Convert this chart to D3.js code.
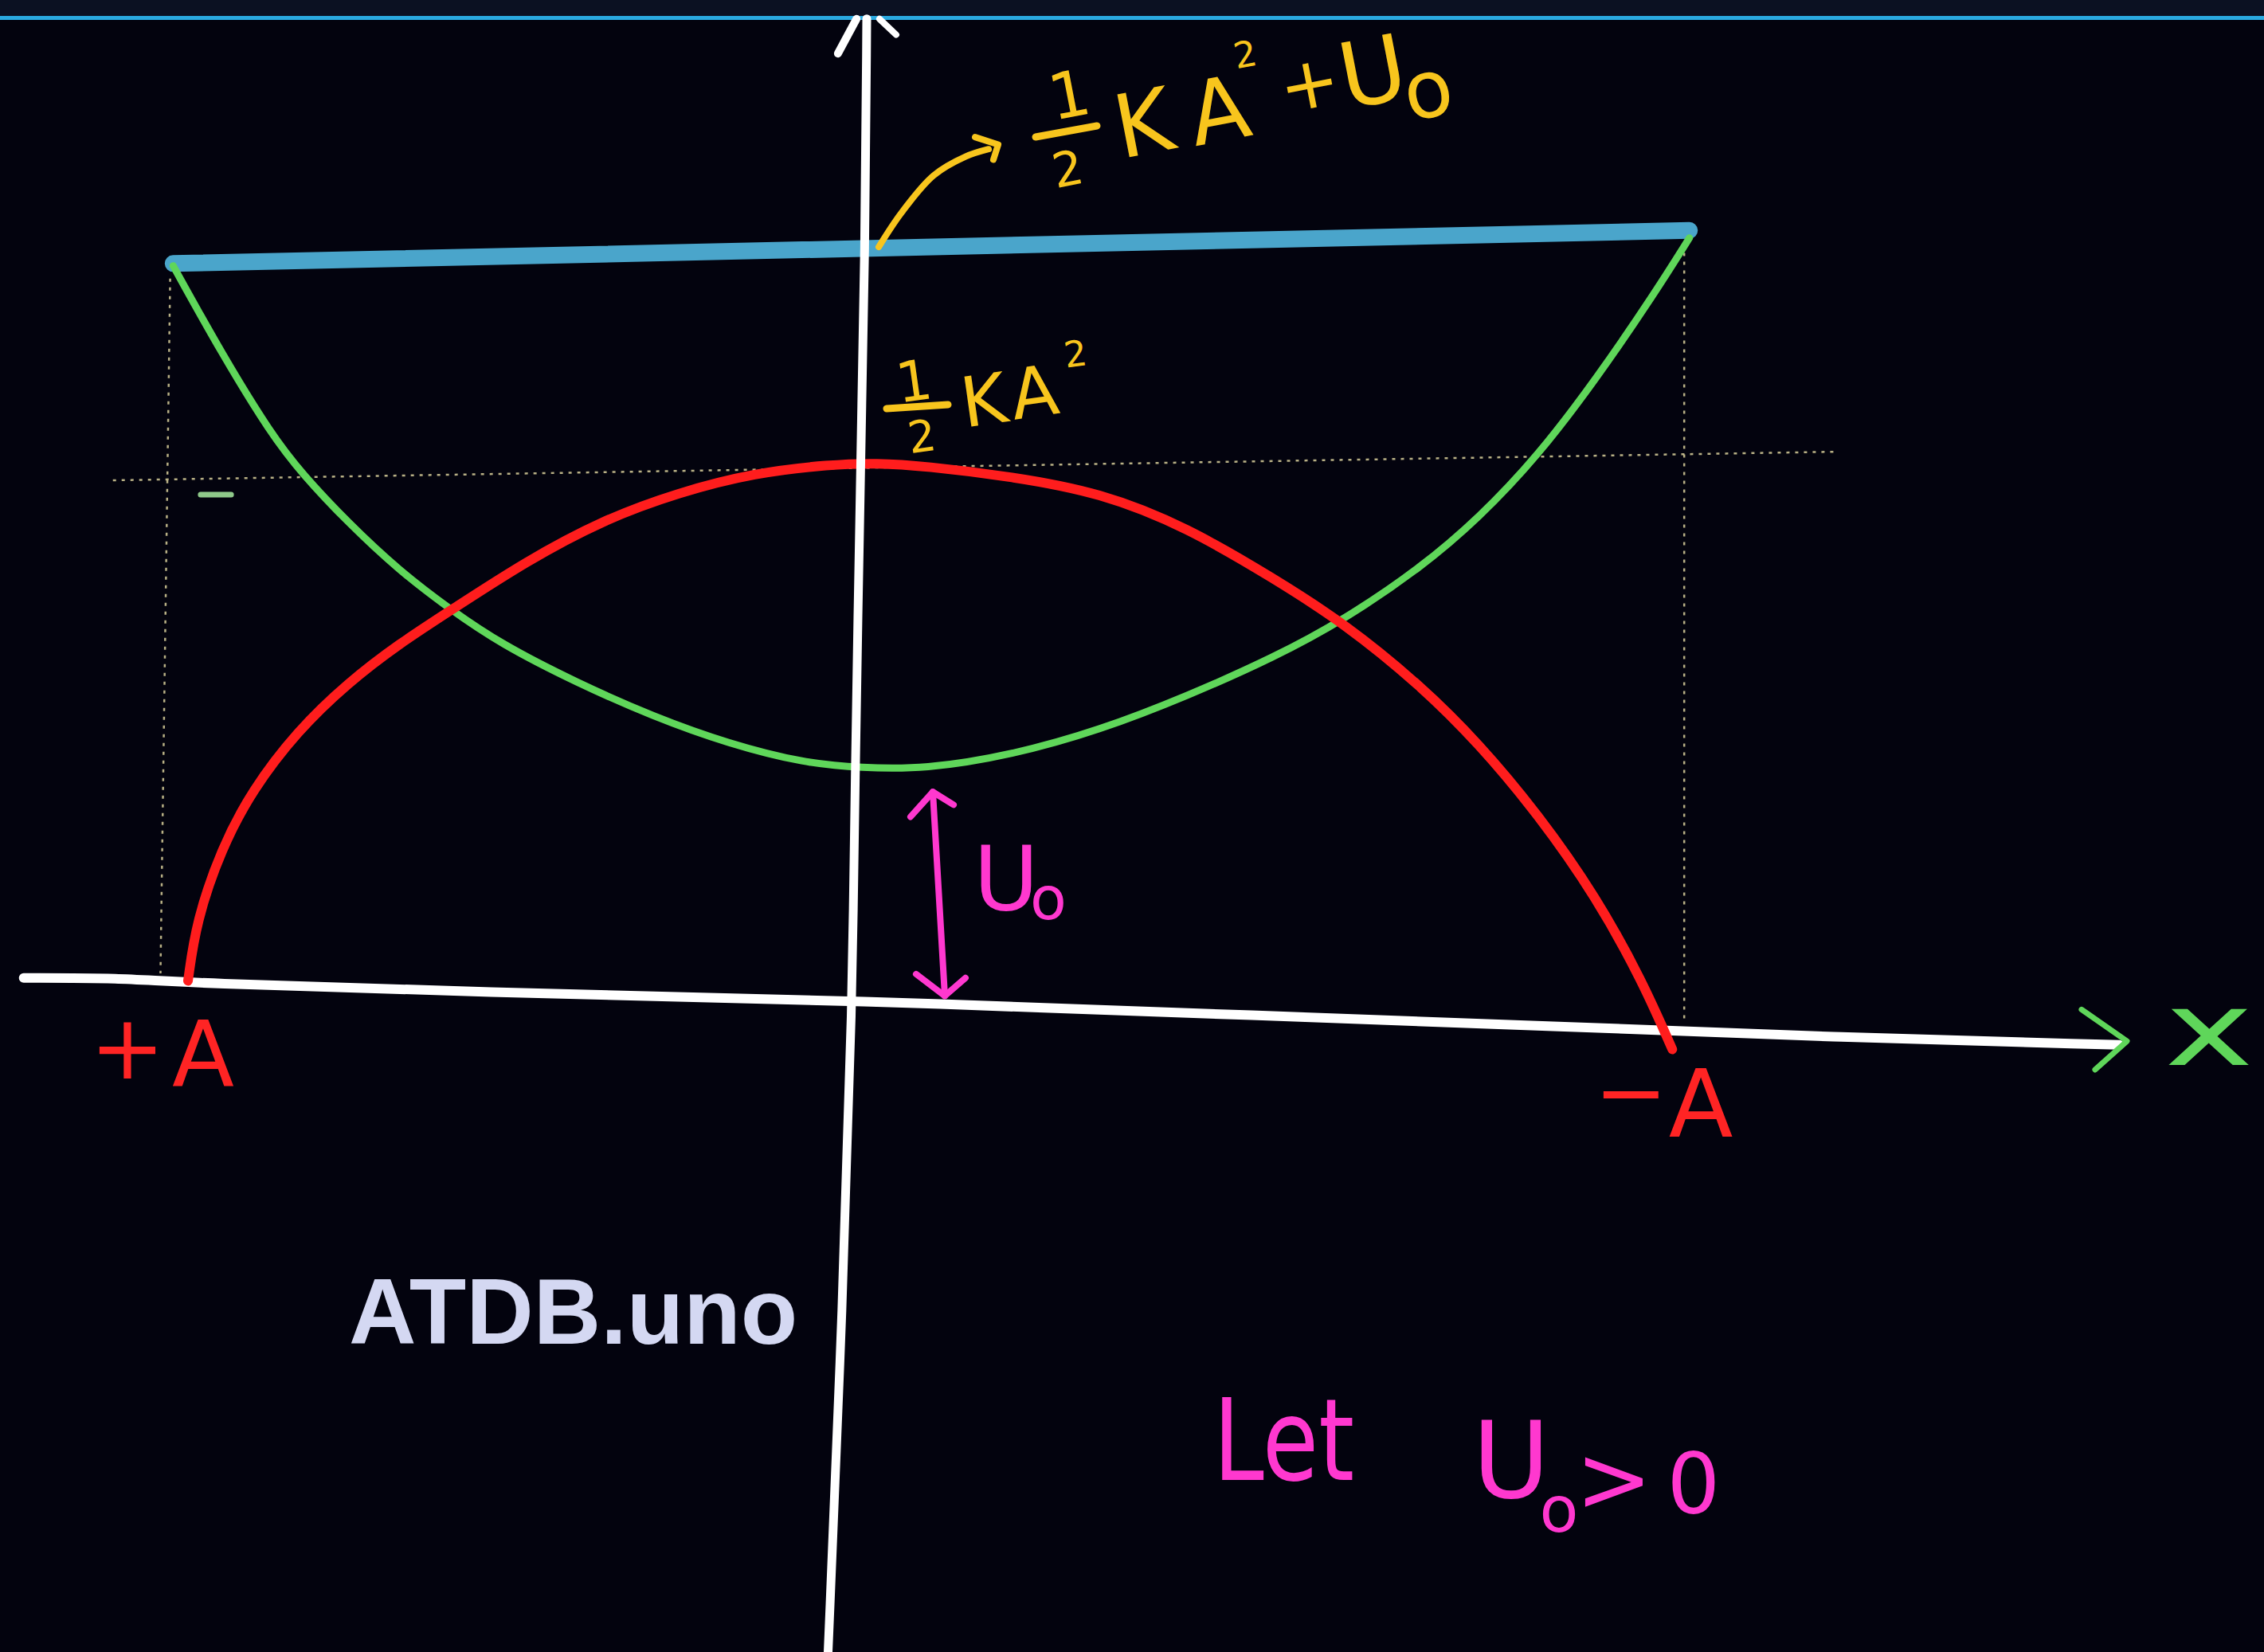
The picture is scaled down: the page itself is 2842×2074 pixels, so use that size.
<!DOCTYPE html>
<html>
<head>
<meta charset="utf-8">
<script src="https://cdn.jsdelivr.net/npm/d3@7"></script>
<style>
  html, body { margin: 0; padding: 0; background: #03030e; }
  svg { display: block; }
</style>
</head>
<body>
<svg id="chart" width="2842" height="2074"></svg>
<script>
// Energy of a spring-mass system whose potential is lifted by a constant U0.
// Position runs between the two turning points (+A on the left, -A on the right),
// energy is in arbitrary units with U0 ≈ 30 and ½KA² ≈ 70.

// Potential energy  U(x) = ½Kx² + U0  (green)
const potentialX = [-1.020, -0.955, -0.888, -0.846, -0.785, -0.716, -0.648, -0.580, -0.477, -0.374, -0.273, -0.170, -0.095, -0.010, 0.108, 0.226, 0.343, 0.461, 0.555, 0.658, 0.736, 0.815, 0.894, 0.972, 1.019];
const potentialE = [97.6, 86.0, 75.2, 69.9, 63.5, 57.1, 52.0, 47.4, 42.2, 37.7, 34.1, 31.5, 30.9, 30.7, 32.6, 35.9, 40.4, 45.6, 50.6, 57.5, 64.1, 72.3, 82.6, 93.9, 101.3];

// Kinetic energy  K(x) = ½K(A² − x²)  (red)
const kineticX = [-1.000, -0.989, -0.955, -0.914, -0.853, -0.785, -0.716, -0.644, -0.546, -0.443, -0.340, -0.238, -0.136, -0.074, -0.010, 0.108, 0.226, 0.343, 0.461, 0.555, 0.658, 0.736, 0.815, 0.894, 0.956, 0.996];
const kineticE = [2.6, 10.5, 20.2, 27.9, 35.8, 42.2, 47.4, 52.0, 58.3, 63.8, 67.5, 70.1, 71.2, 71.4, 71.0, 69.6, 67.5, 62.9, 56.0, 50.1, 41.8, 34.1, 24.8, 13.7, 2.5, -6.5];

// Total mechanical energy  ½KA² + U0  (blue)
const totalX = [-1.020, 1.019];
const totalE = [97.9, 102.3];

// Level of ½KA² and the two turning points (dotted guides)
const kaLevelX = [-1.101, 1.216];
const kaLevelE = [69.1, 72.9];
const leftTurnX = [-1.024, -1.037];
const leftTurnE = [95.9, 3.6];
const rightTurnX = [1.012, 1.012];
const rightTurnE = [99.3, -2.9];

// Hand-drawn axes
const xAxisX = [-1.221, -1.092, -1.000, -0.614, -0.098, 0.461, 0.836, 1.211, 1.597];
const xAxisE = [3.0, 3.0, 2.3, 1.1, 0.0, -2.1, -3.4, -4.9, -5.9];
const yAxisX = [-0.0873, -0.0894, -0.0959, -0.1034, -0.1066, -0.1194, -0.1400];
const yAxisE = [130.4, 100.0, 69.4, 27.1, 0.0, -39.7, -88.3];

// Axis end labels
const turnLabels = ["+A", "−A"];
const axisLabel = "x";

const zip = (xs, es) => xs.map((x, i) => [x, es[i]]);

const W = 2842, H = 2074;
const svg = d3.select("#chart");

const xS = d3.scaleLinear().domain([-1, 1]).range([236, 2103]);
const yS = d3.scaleLinear().domain([0, 100]).range([1256, 311]);

const smooth = d3.line().x(d => xS(d[0])).y(d => yS(d[1])).curve(d3.curveBasis);
const straight = d3.line().x(d => xS(d[0])).y(d => yS(d[1]));

// page background and header strip
svg.append("rect").attr("width", W).attr("height", H).attr("fill", "#03030e");
svg.append("rect").attr("width", W).attr("height", 21).attr("fill", "#0b1122");
svg.append("rect").attr("y", 20).attr("width", W).attr("height", 5).attr("fill", "#2aa9e0");

const plot = svg.append("g");

// dotted guide lines
const dotted = { stroke: "#d8cf9a", width: 2.5, dash: "4,7" };
[[kaLevelX, kaLevelE], [leftTurnX, leftTurnE], [rightTurnX, rightTurnE]].forEach(([xs, es]) => {
  plot.append("path")
    .attr("d", straight(zip(xs, es)))
    .attr("fill", "none")
    .attr("stroke", dotted.stroke)
    .attr("stroke-width", dotted.width)
    .attr("stroke-dasharray", dotted.dash)
    .attr("opacity", 0.85);
});

// small tick mark next to the left guide
plot.append("path")
  .attr("d", straight([[-0.983, 67.2], [-0.942, 67.2]]))
  .attr("stroke", "#8fc98a").attr("stroke-width", 7).attr("stroke-linecap", "round");

// x axis
plot.append("path")
  .attr("d", smooth(zip(xAxisX, xAxisE)))
  .attr("fill", "none").attr("stroke", "#ffffff").attr("stroke-width", 12).attr("stroke-linecap", "round");

// total energy line
plot.append("path")
  .attr("d", straight(zip(totalX, totalE)))
  .attr("fill", "none").attr("stroke", "#4aa5cb").attr("stroke-width", 21).attr("stroke-linecap", "round");

// potential energy curve
plot.append("path")
  .attr("d", smooth(zip(potentialX, potentialE)))
  .attr("fill", "none").attr("stroke", "#5fd65a").attr("stroke-width", 9).attr("stroke-linecap", "round");

// kinetic energy curve
plot.append("path")
  .attr("d", smooth(zip(kineticX, kineticE)))
  .attr("fill", "none").attr("stroke", "#ff1d1d").attr("stroke-width", 12).attr("stroke-linecap", "round");

// y axis with its open arrow head
plot.append("path")
  .attr("d", smooth(zip(yAxisX, yAxisE)))
  .attr("fill", "none").attr("stroke", "#ffffff").attr("stroke-width", 11).attr("stroke-linecap", "round");
plot.append("path")
  .attr("d", straight([[-0.126, 125.8], [-0.101, 130.4]]))
  .attr("stroke", "#ffffff").attr("stroke-width", 10).attr("stroke-linecap", "round");
plot.append("path")
  .attr("d", straight([[-0.0702, 130.4], [-0.0477, 128.3]]))
  .attr("stroke", "#ffffff").attr("stroke-width", 8).attr("stroke-linecap", "round");

// green arrow head at the end of the x axis
plot.append("path")
  .attr("d", straight([[1.5463, -1.2], [1.6074, -5.4], [1.5645, -9.2]]))
  .attr("fill", "none").attr("stroke", "#5fd65a").attr("stroke-width", 7)
  .attr("stroke-linecap", "round").attr("stroke-linejoin", "round");

// yellow pointer from the total-energy line to its label
const yellow = "#f8c51d";
plot.append("path")
  .attr("d", d3.line().x(d => xS(d[0])).y(d => yS(d[1])).curve(d3.curveCatmullRom)(
    [[-0.0712, 100.1], [-0.0402, 104.7], [0.0027, 109.6], [0.0455, 112.1], [0.0766, 113.1]]))
  .attr("fill", "none").attr("stroke", yellow).attr("stroke-width", 8).attr("stroke-linecap", "round");
plot.append("path")
  .attr("d", straight([[0.0584, 114.7], [0.0895, 113.7], [0.0830, 111.7]]))
  .attr("fill", "none").attr("stroke", yellow).attr("stroke-width", 8)
  .attr("stroke-linecap", "round").attr("stroke-linejoin", "round");

// pink double arrow marking U0 between the axis and the potential minimum
const pink = "#ff38cf";
plot.append("path")
  .attr("d", straight([[0.0016, 27.7], [0.0177, 0.6]]))
  .attr("stroke", pink).attr("stroke-width", 8).attr("stroke-linecap", "round");
plot.append("path")
  .attr("d", straight([[-0.0284, 24.4], [0.0016, 27.7], [0.0295, 26.0]]))
  .attr("fill", "none").attr("stroke", pink).attr("stroke-width", 8)
  .attr("stroke-linecap", "round").attr("stroke-linejoin", "round");
plot.append("path")
  .attr("d", straight([[-0.0209, 3.5], [0.0177, 0.6], [0.0455, 3.0]]))
  .attr("fill", "none").attr("stroke", pink).attr("stroke-width", 8)
  .attr("stroke-linecap", "round").attr("stroke-linejoin", "round");

// handwritten-style glyph placement: centre x, bottom of glyph, font size, rotation
const hand = "'DejaVu Sans', 'Open Sans', sans-serif";
function glyphs(parent, items, color, rot) {
  items.forEach(d => {
    const cy = d.b - d.s * 0.36;
    const t = parent.append("text")
      .attr("x", d.cx).attr("y", d.b)
      .attr("text-anchor", "middle")
      .attr("font-family", hand)
      .attr("font-size", d.s)
      .attr("fill", color)
      .attr("transform", `rotate(${rot},${d.cx},${cy})`)
      .text(d.t);
    if (d.len) t.attr("textLength", d.len).attr("lengthAdjust", "spacingAndGlyphs");
  });
}
function bar(parent, x1, y1, x2, y2, color) {
  parent.append("line").attr("x1", x1).attr("y1", y1).attr("x2", x2).attr("y2", y2)
    .attr("stroke", color).attr("stroke-width", 9).attr("stroke-linecap", "round");
}

const labels = svg.append("g");

// ½KA² + U0
glyphs(labels, [
  { t: "1", cx: 1342, b: 147, s: 80 },
  { t: "2", cx: 1340, b: 233, s: 60 },
  { t: "K", cx: 1435, b: 193, s: 110 },
  { t: "A", cx: 1530, b: 177, s: 110 },
  { t: "2", cx: 1563, b: 84, s: 45 },
  { t: "+", cx: 1643, b: 136, s: 90 },
  { t: "U", cx: 1723, b: 130, s: 114 },
  { t: "o", cx: 1792, b: 147, s: 100 }
], yellow, -11);
bar(labels, 1300, 172, 1377, 158, yellow);

// ½KA²
glyphs(labels, [
  { t: "1", cx: 1147, b: 503, s: 70 },
  { t: "2", cx: 1157, b: 567, s: 55 },
  { t: "K", cx: 1235, b: 533, s: 87 },
  { t: "A", cx: 1298, b: 523, s: 87 },
  { t: "2", cx: 1350, b: 460, s: 45 }
], yellow, -8);
bar(labels, 1113, 513, 1190, 508, yellow);

// U0 beside the double arrow
glyphs(labels, [
  { t: "U", cx: 1263, b: 1142, s: 112 },
  { t: "o", cx: 1316, b: 1154, s: 75 }
], pink, 0);

// turning-point labels and axis name
const red = "#ff2424";
glyphs(labels, [
  { t: "+", cx: 160, b: 1354, s: 112 },
  { t: turnLabels[0].slice(1), cx: 255, b: 1363, s: 114 }
], red, 0);
glyphs(labels, [
  { t: "−", cx: 2047, b: 1409, s: 110 },
  { t: turnLabels[1].slice(1), cx: 2135, b: 1427, s: 118 }
], red, 0);
glyphs(labels, [
  { t: axisLabel, cx: 2773, b: 1337, s: 128, len: 112 }
], "#5fd65a", 0);

// assumption note
labels.append("text")
  .attr("x", 1523).attr("y", 1858)
  .attr("font-family", hand).attr("font-size", 142)
  .attr("fill", pink)
  .attr("textLength", 177).attr("lengthAdjust", "spacingAndGlyphs")
  .text("Let");
glyphs(labels, [
  { t: "U", cx: 1897, b: 1880, s: 133 },
  { t: "o", cx: 1957, b: 1923, s: 80 },
  { t: ">", cx: 2026, b: 1897, s: 115 },
  { t: "0", cx: 2126, b: 1900, s: 105 }
], pink, 0);

// site mark
svg.append("text")
  .attr("x", 438).attr("y", 1687)
  .attr("font-family", "'Liberation Sans', Arial, sans-serif")
  .attr("font-weight", "bold")
  .attr("font-size", 117)
  .attr("fill", "#d4d8f2")
  .text("ATDB.uno");
</script>
</body>
</html>
